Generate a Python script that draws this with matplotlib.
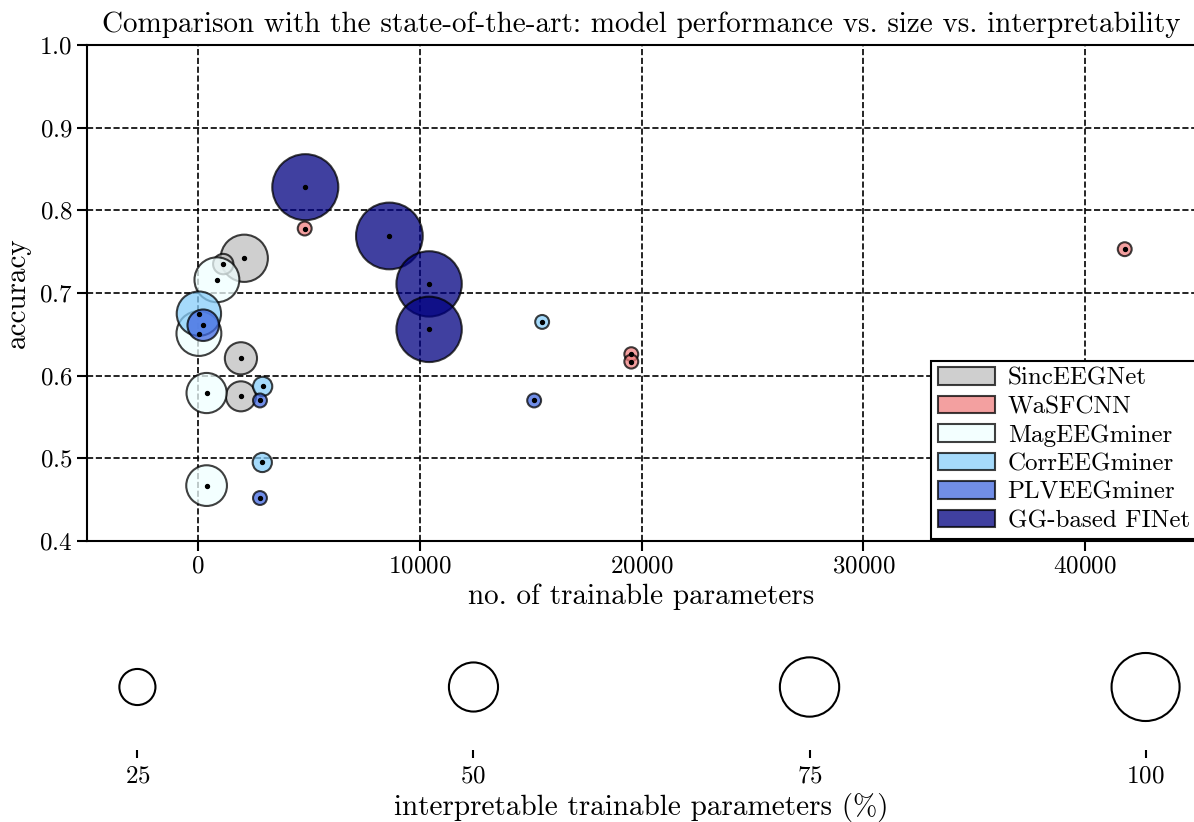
import matplotlib
matplotlib.use('Agg')
import matplotlib.pyplot as plt
from matplotlib.patches import Patch
import numpy as np

plt.rcParams['font.family'] = 'serif'
plt.rcParams['font.serif'] = ['cmr10']
plt.rcParams['mathtext.fontset'] = 'cm'
plt.rcParams['axes.formatter.use_mathtext'] = True
plt.rcParams['axes.unicode_minus'] = False

# modele: liczba parametrow, dokladnosc, procent interpretowalnych parametrow
modele = ['SincEEGNet', 'WaSFCNN', 'MagEEGminer', 'CorrEEGminer', 'PLVEEGminer', 'GG-based FINet']
kolory = ['silver', 'lightcoral', 'azure', 'lightskyblue', 'royalblue', 'navy']

sinc_param = [2090, 1143, 1940, 1940]
sinc_acc = [0.742, 0.735, 0.621, 0.575]
sinc_interp = [46, 5, 19, 16]

wasf_param = [4815, 19540, 19540, 41787]
wasf_acc = [0.778, 0.626, 0.617, 0.753]
wasf_interp = [0, 0, 0, 0]

mag_param = [857, 45, 392, 392]
mag_acc = [0.716, 0.651, 0.579, 0.467]
mag_interp = [41, 41, 32, 33]

corr_param = [45, 2919, 2903, 15520]
corr_acc = [0.675, 0.587, 0.495, 0.665]
corr_interp = [40, 4, 4, 0]

plv_param = [240, 2798, 2798, 15160]
plv_acc = [0.661, 0.570, 0.452, 0.570]
plv_interp = [18, 0, 0, 0]

gg_param = [4842, 8633, 10424, 10424]
gg_acc = [0.828, 0.769, 0.711, 0.656]
gg_interp = [94, 96, 92, 92]

parametry = [sinc_param, wasf_param, mag_param, corr_param, plv_param, gg_param]
dokladnosc = [sinc_acc, wasf_acc, mag_acc, corr_acc, plv_acc, gg_acc]
interp = [sinc_interp, wasf_interp, mag_interp, corr_interp, plv_interp, gg_interp]

skala = [25, 50, 75, 100]


def rozmiar(p):
    return 23 * np.asarray(p, dtype=float) + 100


fig = plt.figure(figsize=(11.94, 8.22), dpi=100)
ax = fig.add_axes([87 / 1194, 1 - 541 / 822, (1196 - 87) / 1194, 496 / 822])

for x, y, p, kolor in zip(parametry, dokladnosc, interp, kolory):
    ax.scatter(x, y, s=rozmiar(p), color=kolor, alpha=0.75,
               edgecolors='black', linewidths=1.5, zorder=3)
for x, y in zip(parametry, dokladnosc):
    ax.scatter(x, y, s=8, color='black', zorder=4)

ax.set_xlim(-5000, 45000)
ax.set_ylim(0.4, 1.0)
ax.set_xticks([0, 10000, 20000, 30000, 40000])
ax.grid(True, linestyle='--', color='black', linewidth=1.2, zorder=0)
ax.set_axisbelow(True)
for s in ax.spines.values():
    s.set_linewidth(1.5)
ax.spines['right'].set_visible(False)
ax.tick_params(width=1.5, length=7, labelsize=18)
ax.set_xlabel('no. of trainable parameters', fontsize=21, labelpad=4)
ax.set_ylabel('accuracy', fontsize=21, labelpad=6)
ax.set_title('Comparison with the state-of-the-art: model performance vs. size vs. interpretability',
             fontsize=21, pad=9)

uchwyty = [Patch(facecolor=k, alpha=0.75, edgecolor='black', linewidth=1.5) for k in kolory]
for h in uchwyty:
    h.set_edgecolor((0, 0, 0, 1))
leg = ax.legend(uchwyty, modele, loc='lower right', bbox_to_anchor=(1.0, 0.005),
                fontsize=18, fancybox=False, framealpha=1, edgecolor='black',
                borderaxespad=0.0, handlelength=2.3, handleheight=0.7,
                labelspacing=0.24, borderpad=0.25, handletextpad=0.5)
leg.get_frame().set_linewidth(1.5)

# skala rozmiaru kolek
ax2 = fig.add_axes([87 / 1194, 1 - 750 / 822, (1196 - 87) / 1194, 126 / 822])
ax2.scatter(skala, np.zeros(len(skala)), s=rozmiar(skala), facecolors='none',
            edgecolors='black', linewidths=1.5)
ax2.set_ylim(-1, 1)
ax2.set_xticks(skala)
ax2.set_yticks([])
for s in ax2.spines.values():
    s.set_visible(False)
ax2.tick_params(width=1.5, length=6, labelsize=18, pad=5)
ax2.set_xlabel('interpretable trainable parameters (%)', fontsize=21, labelpad=4)

plt.savefig('out.png', dpi=100)
